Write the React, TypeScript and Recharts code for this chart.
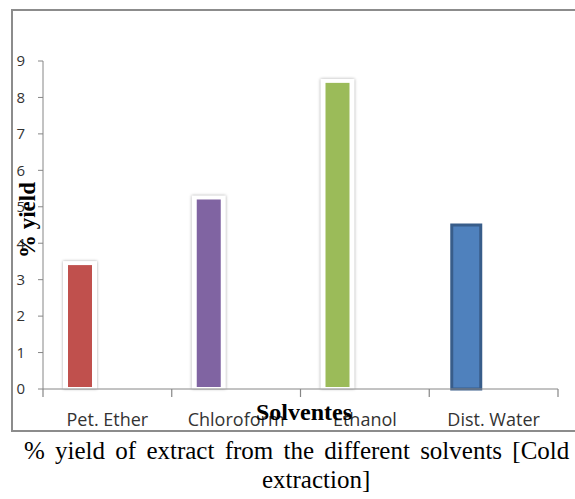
import React from "react";
import { BarChart, Bar, XAxis, YAxis, Cell } from "recharts";

// solvents and their % yield (cold extraction)
const solvents = ["Pet. Ether", "Chloroform", "Ethanol", "Dist. Water"];
const yieldPct = [3.4, 5.2, 8.4, 4.5];
const barColors = ["#c0504d", "#8064a2", "#9bbb59", "#4f81bd"];
const barBorders = ["", "", "", "#385d8a"];
const yTicks = [0, 1, 2, 3, 4, 5, 6, 7, 8, 9];

const data = solvents.map((name, i) => ({ name, value: yieldPct[i] }));

const axisGrey = "#868686";
const sans = "'Open Sans', 'Noto Sans', sans-serif";
const serif = "'Liberation Serif', 'Times New Roman', serif";
const yAxisWidth = 43; // chart has no left margin, so the plot starts here

// excel-ish bar: white glow for the first three, dark outline for the last
const YieldBar = (props: any) => {
  const { x, y, width, height, fill, index } = props;
  if (!height || height <= 0) return null;
  const border = barBorders[index];
  if (border) {
    return (
      <rect
        x={x - 2.5}
        y={y}
        width={width + 5}
        height={height}
        fill={fill}
        stroke={border}
        strokeWidth={3}
      />
    );
  }
  return (
    <g>
      <rect
        x={x - 5}
        y={y - 4}
        width={width + 10}
        height={height + 4}
        fill="#ffffff"
        style={{ filter: "drop-shadow(0 0 1.5px rgba(0,0,0,0.35))" }}
      />
      <rect x={x} y={y} width={width} height={Math.max(0, height - 2)} fill={fill} />
    </g>
  );
};

// category label + tick marks on the band edges (excel style)
const CatTick = (props: any) => {
  const { x, y, payload, index } = props;
  const cx = Number(x);
  const cy = Number(y);
  const half = (cx - yAxisWidth) / (2 * index + 1);
  const last = index === solvents.length - 1;
  return (
    <g>
      <path
        d={`M${cx - half},${cy} v8`}
        stroke={axisGrey}
        strokeWidth={1.2}
        fill="none"
      />
      {last && (
        <path
          d={`M${cx + half},${cy} v8`}
          stroke={axisGrey}
          strokeWidth={1.2}
          fill="none"
        />
      )}
      <text
        x={cx}
        y={cy + 24}
        dy="0.71em"
        textAnchor="middle"
        fontFamily={sans}
        fontSize={18}
        fill="#333"
      >
        {payload.value}
      </text>
    </g>
  );
};

export default function App() {
  return (
    <div
      style={{
        position: "absolute",
        left: 0,
        top: 0,
        width: 575,
        height: 499,
        overflow: "hidden",
        background: "#fff",
      }}
    >
      <div
        style={{
          position: "absolute",
          left: 11,
          top: 9,
          width: 620,
          height: 419,
          border: "2px solid #8c8c8c",
        }}
      />
      <div style={{ position: "absolute", left: 0, top: 0 }}>
        <BarChart
          width={575}
          height={440}
          data={data}
          margin={{ top: 61, right: 17, left: 0, bottom: 15 }}
          barSize={24}
          barGap={30}
        >
          <XAxis
            dataKey="name"
            stroke={axisGrey}
            tickLine={false}
            tickSize={0}
            tickMargin={0}
            height={36}
            interval={0}
            tick={<CatTick />}
          />
          <YAxis
            domain={[0, 9]}
            ticks={yTicks}
            interval={0}
            width={yAxisWidth}
            tickSize={5}
            tickMargin={13}
            stroke={axisGrey}
            tick={{ fontFamily: sans, fontSize: 15, fill: "#333" }}
          />
          <Bar dataKey="value" shape={YieldBar} isAnimationActive={false}>
            {data.map((d, i) => (
              <Cell key={d.name} fill={barColors[i]} />
            ))}
          </Bar>
          <Bar dataKey="blank" isAnimationActive={false} />
        </BarChart>
      </div>
      <div
        style={{
          position: "absolute",
          left: -22,
          top: 210,
          width: 100,
          textAlign: "center",
          transform: "rotate(-90deg)",
          transformOrigin: "50px 10px",
          fontFamily: serif,
          fontWeight: "bold",
          fontSize: 23,
          lineHeight: "20px",
          color: "#000",
          whiteSpace: "nowrap",
        }}
      >
        % yield
      </div>
      <div
        style={{
          position: "absolute",
          left: 200,
          top: 399,
          width: 208,
          textAlign: "center",
          fontFamily: serif,
          fontWeight: "bold",
          fontSize: 24,
          color: "#000",
        }}
      >
        Solventes
      </div>
      <div
        style={{
          position: "absolute",
          left: 24,
          top: 436,
          fontFamily: serif,
          fontSize: 25,
          lineHeight: "29px",
          wordSpacing: 4,
          color: "#000",
          whiteSpace: "nowrap",
        }}
      >
        % yield of extract from the different solvents [Cold
      </div>
      <div
        style={{
          position: "absolute",
          left: 262,
          top: 465,
          fontFamily: serif,
          fontSize: 25,
          lineHeight: "29px",
          color: "#000",
          whiteSpace: "nowrap",
        }}
      >
        extraction]
      </div>
    </div>
  );
}
